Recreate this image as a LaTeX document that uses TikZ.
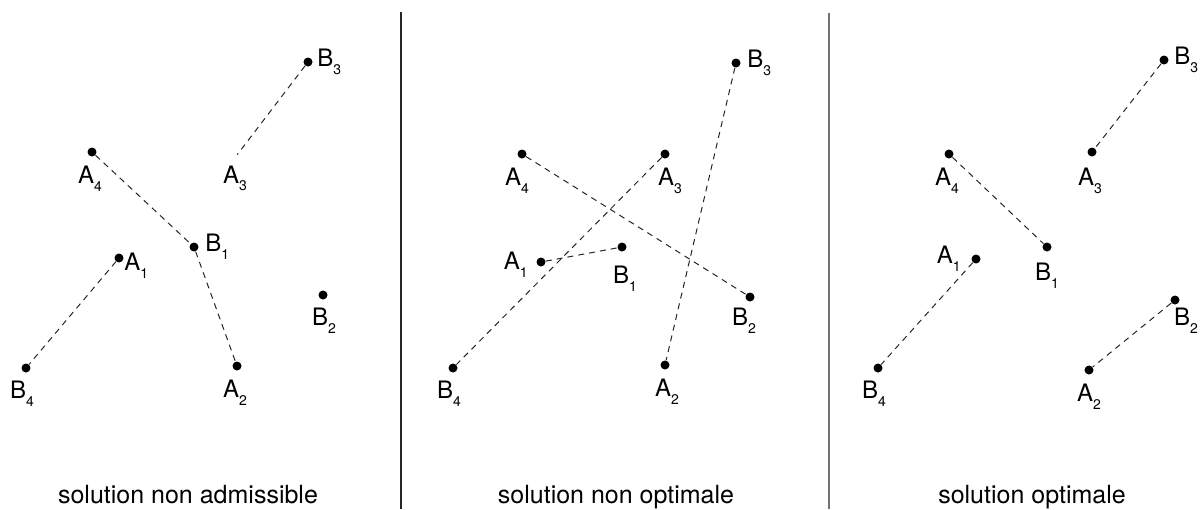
\documentclass[tikz,border=0pt]{standalone}
\usepackage{fontspec}
\setmainfont{TeX Gyre Heros}
\usetikzlibrary{positioning}
\newcommand{\subnum}[1]{\raisebox{-3.8pt}{\fontsize{7}{8}\selectfont #1}}
\begin{document}
\begin{tikzpicture}[x=0.5pt,y=-0.5pt,
	dot_node/.style={circle,fill=black,draw=none,minimum size=4.5pt,inner sep=0pt},
	hidden_node/.style={circle,minimum size=0pt,inner sep=0pt},
	lbl_node/.style={inner sep=0pt,font=\fontsize{12}{14}\selectfont},
	cap_node/.style={inner sep=0pt,font=\fontsize{12.5}{15}\selectfont},
	link/.style={black!85,line width=0.5pt,dash pattern=on 3pt off 2.5pt},
	sep_line/.style={line width=0.6pt}]
	\useasboundingbox (0,0) rectangle (1200,509);

	% separators
	\coordinate (s1t) at (401,12);
	\coordinate (s1b) at (401,509);
	\coordinate (s2t) at (829,13);
	\coordinate (s2b) at (829,509);
	\draw[sep_line,black!85] (s1t) -- (s1b);
	\draw[sep_line,black!55] (s2t) -- (s2b);

	% solution non admissible
	\node[dot_node] (p1b3) at (308,62) {};
	\node[dot_node] (p1a4) at (92,152) {};
	\node[hidden_node] (p1a3) at (237,155) {};
	\node[dot_node] (p1b1) at (194,247) {};
	\node[dot_node] (p1a1) at (119,258) {};
	\node[dot_node] (p1b2) at (323,295) {};
	\node[dot_node] (p1b4) at (26,368) {};
	\node[dot_node] (p1a2) at (237,366) {};

	\node[lbl_node,right=2pt of p1b3] {B\subnum{3}};
	\node[lbl_node,below=4.5pt of p1a4,xshift=-1pt] {A\subnum{4}};
	\node[lbl_node,below=5pt of p1a3,xshift=-1pt] {A\subnum{3}};
	\node[lbl_node,right=3pt of p1b1] {B\subnum{1}};
	\node[lbl_node,right=0pt of p1a1,yshift=-4pt] {A\subnum{1}};
	\node[lbl_node,below=4pt of p1b2,xshift=0.5pt] {B\subnum{2}};
	\node[lbl_node,below=4pt of p1b4,xshift=-2pt] {B\subnum{4}};
	\node[lbl_node,below=4.5pt of p1a2,xshift=-1pt] {A\subnum{2}};

	\draw[link] (p1b3) -- (p1a3);
	\draw[link] (p1a4) -- (p1b1);
	\draw[link] (p1b1) -- (p1a2);
	\draw[link] (p1a1) -- (p1b4);

	% solution non optimale
	\node[dot_node] (p2b3) at (736,63) {};
	\node[dot_node] (p2a4) at (522,154) {};
	\node[dot_node] (p2a3) at (665,154) {};
	\node[dot_node] (p2b1) at (622,247) {};
	\node[dot_node] (p2a1) at (541,262) {};
	\node[dot_node] (p2b2) at (750,297) {};
	\node[dot_node] (p2b4) at (453,368) {};
	\node[dot_node] (p2a2) at (665,365) {};

	\node[lbl_node,right=3pt of p2b3] {B\subnum{3}};
	\node[lbl_node,below=4.5pt of p2a4,xshift=-2.5pt] {A\subnum{4}};
	\node[lbl_node,below=4.5pt of p2a3,xshift=2.5pt] {A\subnum{3}};
	\node[lbl_node,left=4pt of p2a1,yshift=-1.5pt] {A\subnum{1}};
	\node[lbl_node,below=7pt of p2b1,xshift=1.5pt] {B\subnum{1}};
	\node[lbl_node,below=3pt of p2b2,xshift=-3pt] {B\subnum{2}};
	\node[lbl_node,below=4pt of p2b4,xshift=-2pt] {B\subnum{4}};
	\node[lbl_node,below=4.5pt of p2a2,xshift=1pt] {A\subnum{2}};

	\draw[link] (p2a4) -- (p2b2);
	\draw[link] (p2a3) -- (p2b4);
	\draw[link] (p2a1) -- (p2b1);
	\draw[link] (p2b3) -- (p2a2);

	% solution optimale
	\node[dot_node] (p3b3) at (1164,60) {};
	\node[dot_node] (p3a4) at (949,154) {};
	\node[dot_node] (p3a3) at (1092,152) {};
	\node[dot_node] (p3b1) at (1047,247) {};
	\node[dot_node] (p3a1) at (976,259) {};
	\node[dot_node] (p3b2) at (1175,300) {};
	\node[dot_node] (p3b4) at (878,368) {};
	\node[dot_node] (p3a2) at (1089,370) {};

	\node[lbl_node,right=2.5pt of p3b3] {B\subnum{3}};
	\node[lbl_node,below=4.5pt of p3a4,xshift=-1pt] {A\subnum{4}};
	\node[lbl_node,below=5.5pt of p3a3,xshift=-1pt] {A\subnum{3}};
	\node[lbl_node,left=5pt of p3a1] {A\subnum{1}};
	\node[lbl_node,below=5.5pt of p3b1] {B\subnum{1}};
	\node[lbl_node,below=1.5pt of p3b2,xshift=5.5pt] {B\subnum{2}};
	\node[lbl_node,below=4pt of p3b4,xshift=-2pt] {B\subnum{4}};
	\node[lbl_node,below=4.5pt of p3a2] {A\subnum{2}};

	\draw[link] (p3b3) -- (p3a3);
	\draw[link] (p3a4) -- (p3b1);
	\draw[link] (p3a1) -- (p3b4);
	\draw[link] (p3b2) -- (p3a2);

	% captions
	\node[cap_node,anchor=base] (cap1) at (188,503) {solution non admissible};
	\node[cap_node,anchor=base] (cap2) at (616,503) {solution non optimale};
	\node[cap_node,anchor=base] (cap3) at (1032,503) {solution optimale};
\end{tikzpicture}
\end{document}
